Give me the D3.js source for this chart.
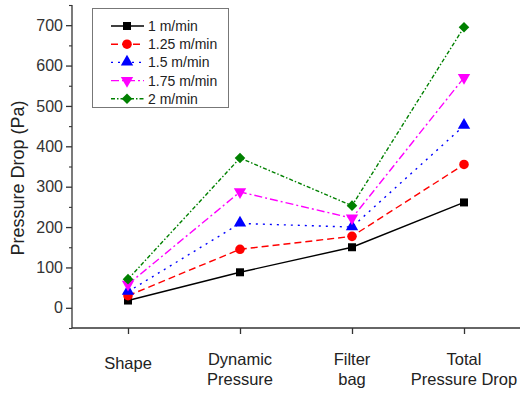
<!DOCTYPE html>
<html>
<head>
<meta charset="utf-8">
<script src="https://cdn.jsdelivr.net/npm/d3@7"></script>
<style>
  html, body { margin: 0; padding: 0; background: #fff; }
  svg { display: block; font-family: Arial, "Liberation Sans", sans-serif; }
</style>
</head>
<body>
<svg id="chart" width="522" height="393"></svg>
<script>
// Pressure drop per stage of the filter unit, at five filtration velocities
const categories = [["Shape"], ["Dynamic", "Pressure"], ["Filter", "bag"], ["Total", "Pressure Drop"]];
const seriesNames = ["1 m/min", "1.25 m/min", "1.5 m/min", "1.75 m/min", "2 m/min"];
const v100 = [18, 88, 150, 261];
const v125 = [30, 145, 177, 355];
const v150 = [40, 209, 200, 451];
const v175 = [58, 287, 222, 570];
const v200 = [71, 371, 253, 695];
const yTicks = [0, 100, 200, 300, 400, 500, 600, 700];
const yMinorTicks = [-50, 50, 150, 250, 350, 450, 550, 650, 750];

const styles = [
  { color: "#000000", dash: null,        marker: "square" },
  { color: "#ff0000", dash: "7,4",       marker: "circle" },
  { color: "#0000ff", dash: "2,5",       marker: "triangle" },
  { color: "#ff00ff", dash: "8,3,2,3",   marker: "triangleDown" },
  { color: "#008000", dash: "4,2,1.5,2", marker: "diamond" }
];
const series = [v100, v125, v150, v175, v200].map((vals, i) => ({ name: seriesNames[i], values: vals, ...styles[i] }));

const svg = d3.select("#chart");
const plotLeft = 72, plotRight = 520, plotTop = 5, plotBottom = 328;

const x = d3.scaleLinear().domain([-0.5, 3.5]).range([plotLeft, plotRight]);
const y = d3.scaleLinear().domain([-50, 750]).range([plotBottom, plotTop]);

const symbolFor = {
  square: d3.symbol().type(d3.symbolSquare).size(64),
  circle: d3.symbol().type(d3.symbolCircle).size(72),
  triangle: d3.symbol().type(d3.symbolTriangle).size(66),
  triangleDown: d3.symbol().type(d3.symbolTriangle).size(66),
  diamond: d3.symbol().type(d3.symbolSquare).size(56)
};
function markerTransform(m, px, py) {
  if (m === "triangleDown") return `translate(${px},${py}) rotate(180)`;
  if (m === "triangle") return `translate(${px},${py - 0.5})`;
  if (m === "diamond") return `translate(${px},${py}) rotate(45)`;
  return `translate(${px},${py})`;
}

// Axes
const yAxis = d3.axisLeft(y).tickValues(yTicks).tickSize(6).tickPadding(3).tickFormat(d3.format("d"));
const gy = svg.append("g").attr("transform", `translate(${plotLeft},0)`).call(yAxis);
gy.select(".domain").attr("d", `M0,${plotBottom}V${plotTop}`).attr("stroke", "#333").attr("stroke-width", 1.3);
gy.selectAll(".tick line").attr("stroke", "#333").attr("stroke-width", 1.3);
gy.selectAll(".tick text").attr("font-size", 16).attr("fill", "#333").attr("font-family", "Arial, 'Liberation Sans', sans-serif");

const yMinor = d3.axisLeft(y).tickValues(yMinorTicks).tickSize(3).tickFormat("");
const gym = svg.append("g").attr("transform", `translate(${plotLeft},0)`).call(yMinor);
gym.select(".domain").remove();
gym.selectAll(".tick line").attr("stroke", "#333").attr("stroke-width", 1.1);

const xAxis = d3.axisBottom(x).tickValues(d3.range(categories.length)).tickSize(6).tickFormat("");
const gx = svg.append("g").attr("transform", `translate(0,${plotBottom})`).call(xAxis);
gx.select(".domain").attr("d", `M${plotLeft},0H${plotRight}`).attr("stroke", "#333").attr("stroke-width", 1.3);
gx.selectAll(".tick line").attr("stroke", "#333").attr("stroke-width", 1.3);

// Category labels (one or two lines)
categories.forEach((lines, i) => {
  const t = svg.append("text")
    .attr("x", x(i)).attr("text-anchor", "middle")
    .attr("font-size", 16.5).attr("fill", "#222");
  const baseY = lines.length === 1 ? 369 : 365;
  lines.forEach((ln, j) => {
    t.append("tspan").attr("x", x(i)).attr("y", baseY + j * 20).text(ln);
  });
});

// Y axis title
svg.append("text")
  .attr("transform", `translate(24,178) rotate(-90)`)
  .attr("text-anchor", "middle")
  .attr("font-size", 18).attr("fill", "#222")
  .text("Pressure Drop (Pa)");

// Series lines and markers
const line = d3.line().x((d, i) => x(i)).y(d => y(d));
series.forEach(s => {
  svg.append("path")
    .datum(s.values)
    .attr("d", line)
    .attr("fill", "none")
    .attr("stroke", s.color)
    .attr("stroke-width", 1.4)
    .attr("stroke-dasharray", s.dash);
});
series.forEach(s => {
  svg.append("g").selectAll("path")
    .data(s.values)
    .join("path")
    .attr("d", symbolFor[s.marker]())
    .attr("transform", (d, i) => markerTransform(s.marker, x(i), y(d)))
    .attr("fill", s.color);
});

// Legend
const lg = svg.append("g");
lg.append("rect").attr("x", 92.5).attr("y", 8.5).attr("width", 136).attr("height", 99)
  .attr("fill", "#fff").attr("stroke", "#777").attr("stroke-width", 1);
series.forEach((s, i) => {
  const ry = 26 + i * 18.2;
  lg.append("line").attr("x1", 111).attr("x2", 144).attr("y1", ry).attr("y2", ry)
    .attr("stroke", s.color).attr("stroke-width", 1.4).attr("stroke-dasharray", s.dash);
  lg.append("path").attr("d", symbolFor[s.marker]())
    .attr("transform", markerTransform(s.marker, 127, ry)).attr("fill", s.color);
  lg.append("text").attr("x", 148).attr("y", ry + 5)
    .attr("font-size", 14).attr("fill", "#222").text(s.name);
});
</script>
</body>
</html>
